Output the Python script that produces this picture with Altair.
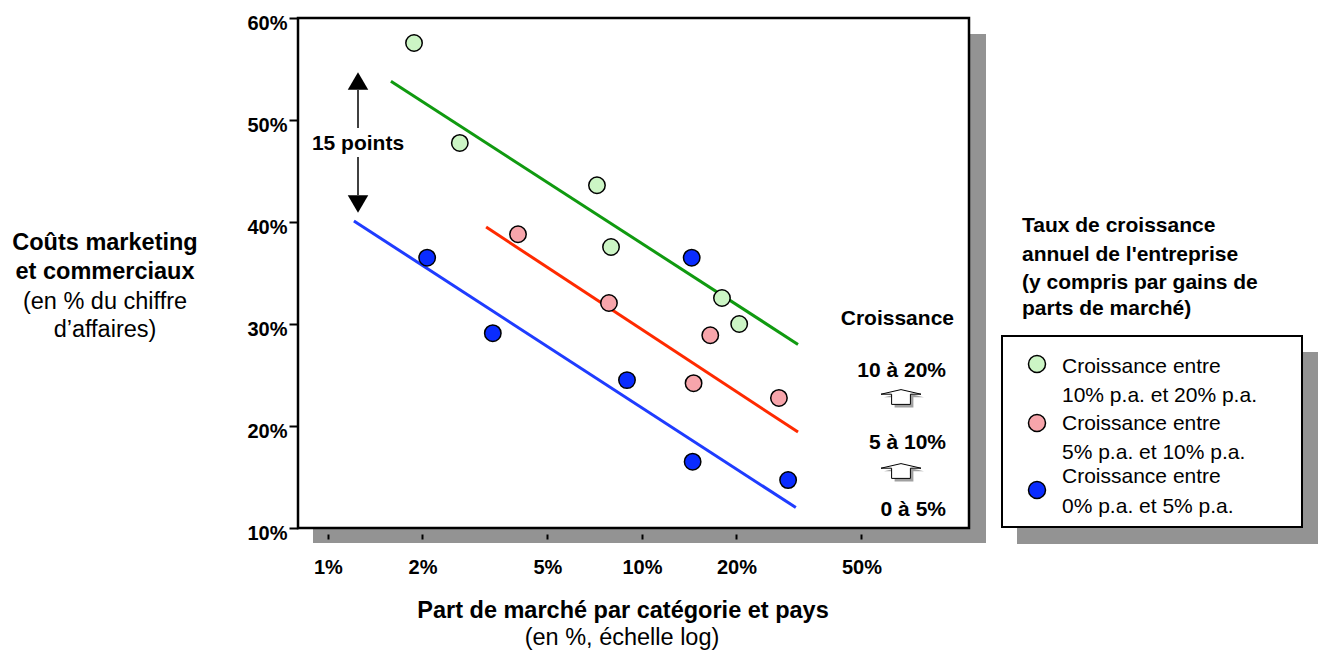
import altair as alt
import pandas as pd

FONT = "Liberation Sans"

# ---------------- data ----------------
series_names = ["10 à 20%", "5 à 10%", "0 à 5%"]
fill_colors = ["#ccf5c5", "#f7a5ab", "#0a2cff"]
line_colors = ["#109a10", "#ff2a00", "#1f3cff"]

green_x = [1.88, 2.63, 7.19, 7.97, 17.98, 20.4]
green_y = [57.55, 47.75, 43.6, 37.55, 32.55, 30.0]
red_x = [4.03, 7.85, 16.5, 14.6, 27.3]
red_y = [38.8, 32.06, 28.9, 24.2, 22.75]
blue_x = [2.07, 3.35, 8.96, 14.4, 14.5, 29.2]
blue_y = [36.5, 29.1, 24.5, 36.5, 16.5, 14.7]

line_x_start = [1.587, 3.19, 1.21]
line_y_start = [53.8, 39.5, 40.1]
line_x_end = [31.4, 31.4, 30.9]
line_y_end = [28.0, 19.4, 12.0]

x_ticks = [1, 2, 5, 10, 20, 50]
y_ticks = [10, 20, 30, 40, 50, 60]

y_title_bold = ["Coûts marketing", "et commerciaux"]
y_title_reg = ["(en % du chiffre", "d’affaires)"]
x_title_bold = "Part de marché par catégorie et pays"
x_title_reg = "(en %, échelle log)"
legend_title = ["Taux de croissance", "annuel de l'entreprise",
                "(y compris par gains de", "parts de marché)"]
legend_lines = ["Croissance entre", "10% p.a. et 20% p.a.",
                "Croissance  entre", "5% p.a. et 10% p.a.",
                "Croissance  entre", "0% p.a. et 5% p.a."]
growth_head = "Croissance"
growth_labels = ["10 à 20%", "5 à 10%", "0 à 5%"]
gap_label = "15 points"

# ---------------- tables ----------------
rows = []
for name, xs, ys in zip(series_names, [green_x, red_x, blue_x], [green_y, red_y, blue_y]):
    for xv, yv in zip(xs, ys):
        rows.append({"share": xv, "cost": yv, "group": name})
points = pd.DataFrame(rows)

lrows = []
for name, x0, y0, x1, y1 in zip(series_names, line_x_start, line_y_start, line_x_end, line_y_end):
    lrows.append({"share": x0, "cost": y0, "group": name, "o": 0})
    lrows.append({"share": x1, "cost": y1, "group": name, "o": 1})
lines = pd.DataFrame(lrows)

one = pd.DataFrame({"k": [0]})

W, H = 671, 510

x_axis = alt.Axis(values=x_ticks, labelExpr="datum.value + '%'", title=None,
                  domain=False, grid=False, offset=6, tickSize=5, tickWidth=2,
                  tickColor="black", labelFontSize=20, labelFontWeight="bold",
                  labelPadding=18, labelColor="black", labelFont=FONT, zindex=1)
y_axis = alt.Axis(values=y_ticks, labelExpr="datum.value + '%'", title=None,
                  domain=False, grid=False, tickSize=9, tickWidth=2,
                  tickColor="black", labelFontSize=20, labelFontWeight="bold",
                  labelPadding=2, labelOffset=5, labelColor="black",
                  labelFont=FONT, zindex=1)
x_scale = alt.Scale(type="log", domain=[0.803, 110], nice=False)
y_scale = alt.Scale(domain=[10, 60], nice=False, zero=False)

X = alt.X("share:Q", scale=x_scale, axis=x_axis)
Y = alt.Y("cost:Q", scale=y_scale, axis=y_axis)

layers = []

# shadow + frame of plot
layers.append(alt.Chart(one).mark_rect(fill="#939393").encode(
    x=alt.value(15), x2=alt.value(688), y=alt.value(16), y2=alt.value(525)))
layers.append(alt.Chart(one).mark_rect(fill="white", stroke="black", strokeWidth=2.5).encode(
    x=alt.value(0), x2=alt.value(W), y=alt.value(0), y2=alt.value(H)))

# trend lines
layers.append(alt.Chart(lines).mark_line(strokeWidth=3).encode(
    x=X, y=Y, detail="group:N", order="o:Q",
    stroke=alt.Stroke("group:N", scale=alt.Scale(domain=series_names, range=line_colors), legend=None)))

# points
layers.append(alt.Chart(points).mark_point(filled=True, shape="circle", size=270, stroke="black",
                                           strokeWidth=1.5, opacity=1, fillOpacity=1).encode(
    x=X, y=Y,
    fill=alt.Fill("group:N", scale=alt.Scale(domain=series_names, range=fill_colors), legend=None)))


def txt(s, x, y, size, weight="normal", align="center"):
    return alt.Chart(one).mark_text(font=FONT, fontSize=size, fontWeight=weight, align=align,
                                    baseline="middle", color="black").encode(
        x=alt.value(x), y=alt.value(y), text=alt.value(s))


# 15 points double arrow
layers.append(alt.Chart(one).mark_rule(color="black", strokeWidth=1.5).encode(
    x=alt.value(60), y=alt.value(72), y2=alt.value(110)))
layers.append(alt.Chart(one).mark_rule(color="black", strokeWidth=1.5).encode(
    x=alt.value(60), y=alt.value(139), y2=alt.value(177)))
layers.append(alt.Chart(one).mark_point(shape="triangle-up", filled=True, color="black", size=420, opacity=1).encode(
    x=alt.value(60), y=alt.value(63)))
layers.append(alt.Chart(one).mark_point(shape="triangle-down", filled=True, color="black", size=420, opacity=1).encode(
    x=alt.value(60), y=alt.value(186)))
layers.append(txt(gap_label, 60, 126, 21, "bold"))

# growth labels inside plot
layers.append(txt(growth_head, 656, 301, 21, "bold", "right"))
for s, yy in zip(growth_labels, [353, 425, 492]):
    layers.append(txt(s, 648, yy, 21, "bold", "right"))

arrow_shape = "M0,-0.37L1,-0.14L0.47,-0.14L0.47,0.37L-0.47,0.37L-0.47,-0.14L-1,-0.14Z"
for yy in [379, 453]:
    layers.append(alt.Chart(one).mark_point(shape=arrow_shape, filled=True, fill="#a0a0a0",
                                            strokeOpacity=0, size=1600, opacity=1).encode(
        x=alt.value(606), y=alt.value(yy + 3)))
    layers.append(alt.Chart(one).mark_point(shape=arrow_shape, filled=True, fill="white",
                                            stroke="black", strokeWidth=1, size=1600, opacity=1).encode(
        x=alt.value(603), y=alt.value(yy)))

# y title
for s, yy in zip(y_title_bold, [225, 254]):
    layers.append(txt(s, -193, yy, 23.5, "bold"))
for s, yy in zip(y_title_reg, [284, 312]):
    layers.append(txt(s, -193, yy, 23.5, "normal"))

# x title
layers.append(txt(x_title_bold, 325, 593, 23.5, "bold"))
layers.append(txt(x_title_reg, 324, 620, 23.5, "normal"))

# legend on the right
for s, yy in zip(legend_title, [208, 237, 265, 291]):
    layers.append(txt(s, 724, yy, 21, "bold", "left"))
layers.append(alt.Chart(one).mark_rect(fill="#939393").encode(
    x=alt.value(719), x2=alt.value(1020), y=alt.value(334), y2=alt.value(526)))
layers.append(alt.Chart(one).mark_rect(fill="white", stroke="black", strokeWidth=2).encode(
    x=alt.value(704), x2=alt.value(1004), y=alt.value(318), y2=alt.value(509)))
for col, yy in zip(fill_colors, [346, 405, 472]):
    layers.append(alt.Chart(one).mark_point(shape="circle", filled=True, fill=col, stroke="black",
                                            strokeWidth=1.5, size=290, opacity=1).encode(
        x=alt.value(739), y=alt.value(yy)))
for s, yy in zip(legend_lines, [349, 378, 406, 435, 459, 489]):
    layers.append(txt(s, 764, yy, 21, "normal", "left"))

chart = alt.layer(*layers).properties(
    width=W, height=H,
    autosize=alt.AutoSizeParams(type="none"),
    padding={"left": 298, "top": 18, "right": 352, "bottom": 123},
    background="white",
).configure_view(stroke=None)

chart.save("out.html", embed_options={"renderer": "svg", "actions": False})
